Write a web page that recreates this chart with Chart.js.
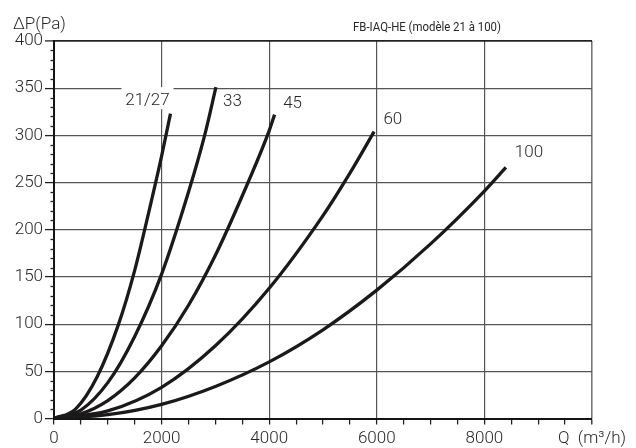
<!DOCTYPE html>
<html><head><meta charset="utf-8">
<script src="https://cdn.jsdelivr.net/npm/chart.js@4/dist/chart.umd.min.js"></script>
<style>html,body{margin:0;padding:0;background:#fff}#wrap{width:636px;height:448px}</style>
</head><body><div id="wrap"><canvas id="c" width="636" height="448"></canvas></div>
<script>
// ---- data ----
const seriesNames = ['21/27', '33', '45', '60', '100'];
const flow2127 = [0, 400, 800, 1200, 1500, 1800, 2000, 2165];
const pres2127 = [0, 10, 44, 100, 157, 228, 278, 323];
const flow33 = [0, 500, 1000, 1500, 2000, 2500, 2800, 3010];
const pres33 = [0, 9, 38, 87, 153, 240, 300, 351];
const flow45 = [0, 500, 1000, 1500, 2000, 2500, 3000, 3500, 4000, 4100];
const pres45 = [0, 5, 19, 43, 77, 120, 173, 236, 305, 322];
const flow60 = [0, 1000, 2000, 3000, 4000, 5000, 5500, 5950];
const pres60 = [0, 8, 33, 77, 138, 215, 260, 304];
const flow100 = [0, 1000, 2000, 3000, 4000, 5000, 6000, 7000, 8000, 8400];
const pres100 = [0, 4, 15, 34, 60, 94, 136, 185, 241, 266];
const xTickValues = [0, 2000, 4000, 6000, 8000, 10000];
const xTickLabels = ['0', '2000', '4000', '6000', '8000', 'Q  (m³/h)'];
const yTickValues = [0, 50, 100, 150, 200, 250, 300, 350, 400];
const yTickLabels = ['0', '50', '100', '150', '200', '250', '300', '350', '400'];
const yAxisTitle = 'ΔP(Pa)';
const chartTitle = 'FB-IAQ-HE (modèle 21 à 100)';

// ---- styling ----
const FONT = 'Roboto, "DejaVu Sans", sans-serif';
const INK = '#1c191a';
const TXT = '#2a2627';
const labelOffsets = [[-23, -13], [16.5, 14.5], [18, -10.5], [18.7, -12], [23, -15]];

const flows = [flow2127, flow33, flow45, flow60, flow100];
const press = [pres2127, pres33, pres45, pres60, pres100];
const datasets = seriesNames.map((n, i) => ({
  label: n,
  data: flows[i].map((q, j) => ({x: q, y: press[i][j]})),
  borderColor: INK, borderWidth: 3.3, pointRadius: 0, showLine: true,
  cubicInterpolationMode: 'monotone', fill: false, borderCapStyle: 'butt'
}));

const decor = {
  id: 'decor',
  beforeDatasetsDraw(chart) {
    const {ctx, scales: {x, y}} = chart;
    const ds = chart.data.datasets[0].data;
    const last = ds[ds.length - 1];
    const cx = x.getPixelForValue(last.x) + labelOffsets[0][0];
    const cy = y.getPixelForValue(last.y) + labelOffsets[0][1];
    ctx.save();
    ctx.fillStyle = '#fff';
    ctx.fillRect(cx - 26, cy - 13.5, 52, 22);
    ctx.restore();
  },
  afterDraw(chart) {
    const {ctx, scales: {x, y}, chartArea} = chart;
    ctx.save();
    ctx.strokeStyle = '#222'; ctx.lineWidth = 1.3;
    for (let v = 0; v <= 400; v += 10) {
      if (v % 50 === 0) continue;
      const py = Math.round(y.getPixelForValue(v)) + 0.5;
      ctx.beginPath(); ctx.moveTo(chartArea.left - 3.5, py); ctx.lineTo(chartArea.left, py); ctx.stroke();
    }
    ctx.fillStyle = TXT;
    ctx.font = '300 17px ' + FONT;
    ctx.textAlign = 'center'; ctx.textBaseline = 'middle';
    chart.data.datasets.forEach((d, i) => {
      const last = d.data[d.data.length - 1];
      const px = x.getPixelForValue(last.x) + labelOffsets[i][0];
      const py = y.getPixelForValue(last.y) + labelOffsets[i][1];
      ctx.fillText(d.label, px, py);
    });
    ctx.textAlign = 'left'; ctx.textBaseline = 'alphabetic';
    ctx.font = '300 17px ' + FONT;
    ctx.fillText(yAxisTitle, 13, 29);
    ctx.font = '13px ' + FONT;
    const w = ctx.measureText(chartTitle).width;
    const target = 148;
    ctx.translate(353, 30.5);
    ctx.scale(target / w, 1);
    ctx.fillText(chartTitle, 0, 0);
    ctx.restore();
  }
};

Chart.defaults.font.family = FONT;
Chart.defaults.color = TXT;

new Chart(document.getElementById('c'), {
  type: 'scatter',
  data: {datasets},
  options: {
    responsive: false, animation: false, devicePixelRatio: 1,
    layout: {padding: {left: 0, right: 44, top: 41, bottom: 0}},
    plugins: {legend: {display: false}, tooltip: {enabled: false}},
    scales: {
      x: {
        type: 'linear', min: 0, max: 10000,
        afterFit(s) { s.height = 29.5; },
        afterBuildTicks(s) { s.ticks = []; for (let v = 0; v <= 10000; v += 500) s.ticks.push({value: v}); },
        ticks: {
          autoSkip: false, maxRotation: 0, padding: 4,
          font: {size: 17, family: FONT, weight: 300}, color: TXT,
          callback: v => { const k = xTickValues.indexOf(v); return k >= 0 ? xTickLabels[k] : ''; }
        },
        grid: {
          drawTicks: true, tickLength: 6, tickWidth: 1.3, tickColor: '#222',
          color: c => (c.tick && c.tick.value === 10000) ? '#777' : ((c.tick && c.tick.value % 2000 === 0 && c.tick.value !== 0) ? '#555' : 'rgba(0,0,0,0)'),
          lineWidth: c => (c.tick && c.tick.value === 10000) ? 1.6 : 1.2
        },
        border: {display: true, color: '#161313', width: 2}
      },
      y: {
        type: 'linear', min: 0, max: 400,
        afterFit(s) { s.width = 54; },
        afterBuildTicks(s) { s.ticks = []; for (let v = 0; v <= 400; v += 50) s.ticks.push({value: v}); },
        ticks: {
          autoSkip: false, padding: 2,
          font: {size: 17, family: FONT, weight: 300}, color: TXT,
          callback: v => { const k = yTickValues.indexOf(v); return k >= 0 ? yTickLabels[k] : ''; }
        },
        grid: {
          drawTicks: true, tickLength: 9, tickWidth: 1.3, tickColor: '#222',
          color: c => (c.tick && c.tick.value === 400) ? '#222' : (c.tick && c.tick.value === 0 ? 'rgba(0,0,0,0)' : '#555'),
          lineWidth: c => (c.tick && c.tick.value === 400) ? 1.8 : 1.2
        },
        border: {display: true, color: '#161313', width: 2}
      }
    }
  },
  plugins: [decor]
});
</script></body></html>
